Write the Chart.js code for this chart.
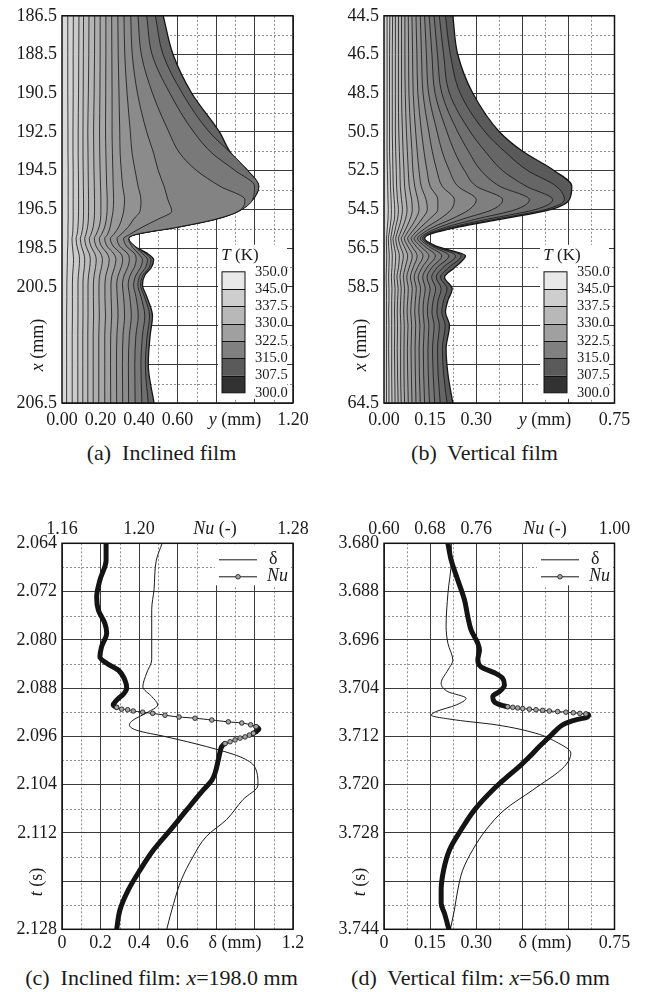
<!DOCTYPE html>
<html>
<head>
<meta charset="utf-8">
<script src="https://cdn.jsdelivr.net/npm/chart.js@4.4.1/dist/chart.umd.min.js"></script>
<style>
  body { margin: 0; background: #fff; }
  #page { position: relative; width: 646px; height: 992px; background: #fff; overflow: hidden;
          font-family: "Liberation Serif", "Times New Roman", serif; color: #1a1a1a; }
  canvas { position: absolute; }
  .cap { position: absolute; font-size: 22px; line-height: 26px; text-align: center; white-space: pre; }
</style>
</head>
<body>
<div id="page">
  <canvas id="filmA" width="323" height="440" style="left:0;top:0"></canvas>
  <canvas id="filmB" width="323" height="440" style="left:323px;top:0"></canvas>
  <canvas id="traceC" width="323" height="460" style="left:0;top:500px"></canvas>
  <canvas id="traceD" width="323" height="460" style="left:323px;top:500px"></canvas>
  <div class="cap" style="left:0;top:440px;width:323px">(a)  Inclined film</div>
  <div class="cap" style="left:323px;top:440px;width:323px">(b)  Vertical film</div>
  <div class="cap" style="left:0;top:965px;width:323px">(c)  Inclined film: <i>x</i>=198.0 mm</div>
  <div class="cap" style="left:319px;top:965px;width:323px">(d)  Vertical film: <i>x</i>=56.0 mm</div>
</div>

<script>
// ---------- (a) inclined film: isotherms across the film, x = 186.5 .. 206.5 mm ----------
const aStations = [186.5, 188.5, 190.5, 192.5, 193.6, 194.5, 195.3, 196.0, 196.6, 197.0, 197.4, 197.8,
                   198.0, 198.4, 198.8, 199.1, 199.5, 199.9, 200.4, 201.0, 202.0, 203.0, 204.5, 206.5]
const aSurface = [0.526, 0.577, 0.674, 0.818, 0.878, 0.965, 1.022, 0.990, 0.915, 0.800, 0.610, 0.381,
                  0.346, 0.377, 0.447, 0.476, 0.464, 0.430, 0.418, 0.440, 0.470, 0.458, 0.448, 0.478]
// wall side first
const aIsotherms = [
  [0.030, 0.030, 0.030, 0.031, 0.031, 0.032, 0.032, 0.032, 0.032, 0.032, 0.031, 0.031, 0.031, 0.030, 0.028, 0.028, 0.027, 0.026, 0.025, 0.025, 0.024, 0.024, 0.024, 0.024],
  [0.059, 0.058, 0.058, 0.057, 0.057, 0.058, 0.058, 0.058, 0.058, 0.058, 0.057, 0.055, 0.052, 0.054, 0.058, 0.060, 0.058, 0.055, 0.054, 0.054, 0.054, 0.053, 0.053, 0.053],
  [0.088, 0.087, 0.086, 0.084, 0.084, 0.085, 0.086, 0.086, 0.086, 0.085, 0.083, 0.078, 0.073, 0.078, 0.088, 0.091, 0.089, 0.085, 0.083, 0.083, 0.083, 0.082, 0.082, 0.082],
  [0.112, 0.111, 0.110, 0.109, 0.109, 0.110, 0.111, 0.112, 0.112, 0.111, 0.108, 0.101, 0.095, 0.101, 0.114, 0.118, 0.116, 0.111, 0.109, 0.109, 0.109, 0.108, 0.108, 0.108],
  [0.140, 0.139, 0.137, 0.134, 0.135, 0.136, 0.137, 0.138, 0.138, 0.137, 0.133, 0.124, 0.118, 0.125, 0.142, 0.147, 0.144, 0.138, 0.135, 0.135, 0.135, 0.134, 0.134, 0.134],
  [0.170, 0.169, 0.167, 0.164, 0.165, 0.166, 0.168, 0.169, 0.169, 0.167, 0.162, 0.150, 0.142, 0.150, 0.171, 0.178, 0.174, 0.167, 0.163, 0.163, 0.164, 0.162, 0.162, 0.162],
  [0.198, 0.198, 0.197, 0.195, 0.196, 0.198, 0.200, 0.202, 0.202, 0.200, 0.193, 0.177, 0.168, 0.177, 0.202, 0.210, 0.205, 0.196, 0.192, 0.192, 0.194, 0.191, 0.191, 0.191],
  [0.228, 0.228, 0.227, 0.226, 0.228, 0.230, 0.232, 0.235, 0.234, 0.230, 0.222, 0.205, 0.194, 0.205, 0.236, 0.245, 0.239, 0.228, 0.223, 0.223, 0.226, 0.222, 0.222, 0.222],
  [0.258, 0.259, 0.260, 0.260, 0.262, 0.264, 0.266, 0.268, 0.265, 0.258, 0.250, 0.236, 0.222, 0.234, 0.270, 0.280, 0.273, 0.260, 0.254, 0.255, 0.258, 0.253, 0.252, 0.253],
  [0.290, 0.292, 0.296, 0.300, 0.302, 0.308, 0.315, 0.325, 0.320, 0.310, 0.295, 0.268, 0.251, 0.266, 0.306, 0.315, 0.307, 0.292, 0.284, 0.287, 0.291, 0.285, 0.283, 0.284],
  [0.322, 0.326, 0.338, 0.355, 0.364, 0.380, 0.395, 0.410, 0.405, 0.372, 0.345, 0.305, 0.286, 0.300, 0.342, 0.350, 0.341, 0.323, 0.314, 0.320, 0.325, 0.317, 0.314, 0.315],
  [0.357, 0.365, 0.392, 0.440, 0.476, 0.500, 0.530, 0.550, 0.570, 0.500, 0.420, 0.350, 0.320, 0.335, 0.378, 0.385, 0.375, 0.354, 0.344, 0.352, 0.360, 0.350, 0.345, 0.346],
  [0.395, 0.412, 0.470, 0.555, 0.612, 0.700, 0.820, 0.950, 0.915, 0.800, 0.610, 0.381, 0.346, 0.362, 0.398, 0.418, 0.408, 0.384, 0.372, 0.384, 0.396, 0.384, 0.378, 0.380],
  [0.440, 0.468, 0.560, 0.684, 0.780, 0.900, 1.000, 0.990, 0.915, 0.800, 0.610, 0.381, 0.346, 0.377, 0.420, 0.444, 0.434, 0.406, 0.394, 0.410, 0.430, 0.418, 0.410, 0.415],
  [0.485, 0.525, 0.625, 0.765, 0.878, 0.965, 1.022, 0.990, 0.915, 0.800, 0.610, 0.381, 0.346, 0.377, 0.437, 0.462, 0.452, 0.420, 0.408, 0.428, 0.455, 0.443, 0.433, 0.448]
]
const aRowTicks = [186.5, 188.5, 190.5, 192.5, 194.5, 196.5, 198.5, 200.5, 202.5, 204.5, 206.5]
const aRowLabels = ['186.5', '188.5', '190.5', '192.5', '194.5', '196.5', '198.5', '200.5', '', '', '206.5']
const aColTicks = [0, 0.2, 0.4, 0.6, 0.8, 1.0, 1.2]
const aColLabels = ['0.00', '0.20', '0.40', '0.60', '', '', '1.20']

// ---------- (b) vertical film, x = 44.5 .. 64.5 mm ----------
const bStations = [44.5, 46.5, 48.5, 50.5, 51.5, 52.5, 53.3, 54.0, 54.5, 55.0, 55.4, 55.8,
                   56.0, 56.4, 56.9, 57.5, 58.0, 58.6, 59.2, 59.8, 60.5, 61.7, 63.0, 64.5]
const bSurface = [0.224, 0.240, 0.289, 0.376, 0.451, 0.554, 0.611, 0.603, 0.545, 0.382, 0.245, 0.146,
                  0.132, 0.170, 0.265, 0.230, 0.197, 0.222, 0.208, 0.200, 0.213, 0.202, 0.208, 0.224]
const bIsotherms = [
  [0.010, 0.010, 0.010, 0.010, 0.010, 0.011, 0.012, 0.013, 0.014, 0.013, 0.011, 0.009, 0.008, 0.008, 0.009, 0.008, 0.007, 0.008, 0.008, 0.008, 0.008, 0.008, 0.008, 0.008],
  [0.019, 0.018, 0.018, 0.018, 0.018, 0.020, 0.021, 0.023, 0.024, 0.023, 0.020, 0.016, 0.014, 0.015, 0.017, 0.016, 0.015, 0.016, 0.016, 0.015, 0.016, 0.015, 0.016, 0.016],
  [0.028, 0.027, 0.027, 0.027, 0.028, 0.029, 0.030, 0.033, 0.035, 0.034, 0.028, 0.024, 0.022, 0.024, 0.027, 0.026, 0.024, 0.026, 0.025, 0.025, 0.025, 0.025, 0.025, 0.026],
  [0.037, 0.037, 0.037, 0.037, 0.038, 0.040, 0.041, 0.044, 0.047, 0.044, 0.038, 0.033, 0.029, 0.033, 0.038, 0.036, 0.033, 0.036, 0.035, 0.034, 0.035, 0.034, 0.035, 0.036],
  [0.047, 0.047, 0.047, 0.048, 0.050, 0.052, 0.053, 0.057, 0.060, 0.056, 0.049, 0.041, 0.038, 0.042, 0.050, 0.047, 0.042, 0.046, 0.044, 0.043, 0.044, 0.043, 0.044, 0.046],
  [0.057, 0.057, 0.057, 0.060, 0.062, 0.065, 0.067, 0.072, 0.075, 0.070, 0.061, 0.051, 0.047, 0.053, 0.063, 0.057, 0.052, 0.056, 0.054, 0.053, 0.055, 0.054, 0.054, 0.056],
  [0.068, 0.068, 0.069, 0.073, 0.076, 0.079, 0.082, 0.090, 0.092, 0.085, 0.074, 0.062, 0.056, 0.065, 0.077, 0.069, 0.063, 0.067, 0.065, 0.064, 0.066, 0.065, 0.065, 0.067],
  [0.079, 0.080, 0.081, 0.087, 0.091, 0.094, 0.100, 0.110, 0.114, 0.103, 0.088, 0.072, 0.066, 0.077, 0.092, 0.082, 0.074, 0.079, 0.077, 0.075, 0.078, 0.076, 0.077, 0.079],
  [0.091, 0.093, 0.095, 0.103, 0.108, 0.114, 0.121, 0.137, 0.141, 0.123, 0.104, 0.084, 0.077, 0.090, 0.108, 0.095, 0.086, 0.092, 0.089, 0.087, 0.090, 0.088, 0.089, 0.091],
  [0.104, 0.107, 0.110, 0.122, 0.130, 0.140, 0.150, 0.175, 0.175, 0.148, 0.121, 0.096, 0.088, 0.104, 0.127, 0.109, 0.098, 0.105, 0.102, 0.100, 0.103, 0.101, 0.102, 0.104],
  [0.118, 0.122, 0.127, 0.146, 0.157, 0.172, 0.189, 0.229, 0.219, 0.181, 0.141, 0.108, 0.098, 0.118, 0.146, 0.124, 0.111, 0.119, 0.115, 0.113, 0.117, 0.114, 0.115, 0.118],
  [0.132, 0.138, 0.145, 0.173, 0.189, 0.213, 0.240, 0.300, 0.278, 0.219, 0.162, 0.120, 0.109, 0.132, 0.167, 0.140, 0.126, 0.134, 0.129, 0.127, 0.131, 0.128, 0.129, 0.132],
  [0.147, 0.156, 0.166, 0.205, 0.229, 0.262, 0.300, 0.386, 0.354, 0.256, 0.183, 0.130, 0.118, 0.145, 0.188, 0.156, 0.140, 0.150, 0.144, 0.141, 0.146, 0.143, 0.144, 0.148],
  [0.163, 0.174, 0.188, 0.240, 0.275, 0.316, 0.376, 0.473, 0.430, 0.300, 0.205, 0.137, 0.125, 0.156, 0.211, 0.173, 0.155, 0.168, 0.160, 0.156, 0.163, 0.158, 0.160, 0.165],
  [0.180, 0.194, 0.213, 0.281, 0.329, 0.386, 0.462, 0.549, 0.494, 0.338, 0.224, 0.143, 0.130, 0.163, 0.233, 0.192, 0.170, 0.186, 0.176, 0.172, 0.180, 0.174, 0.176, 0.183],
  [0.200, 0.216, 0.248, 0.329, 0.392, 0.468, 0.560, 0.587, 0.527, 0.365, 0.237, 0.145, 0.132, 0.168, 0.251, 0.211, 0.184, 0.205, 0.194, 0.188, 0.199, 0.190, 0.194, 0.205]
]
const bRowTicks = [44.5, 46.5, 48.5, 50.5, 52.5, 54.5, 56.5, 58.5, 60.5, 62.5, 64.5]
const bRowLabels = ['44.5', '46.5', '48.5', '50.5', '52.5', '54.5', '56.5', '58.5', '', '', '64.5']
const bColTicks = [0, 0.15, 0.30, 0.45, 0.60, 0.75]
const bColLabels = ['0.00', '0.15', '0.30', '', '', '0.75']

// temperature key
const tempTicks = [350.0, 345.0, 337.5, 330.0, 322.5, 315.0, 307.5, 300.0]

// ---------- (c) inclined film, time traces at x = 198.0 mm ----------
const cDeltaTime = [2.0640, 2.0668, 2.0717, 2.0750, 2.0800, 2.0833, 2.0855, 2.0878, 2.0894, 2.0908, 2.0921, 2.0933, 2.0941,
                    2.0950, 2.0961, 2.0977, 2.0994, 2.1010, 2.1041, 2.1065, 2.1098, 2.1126, 2.1160, 2.1198, 2.1237, 2.1280]
const cDelta = [0.520, 0.490, 0.478, 0.466, 0.466, 0.466, 0.440, 0.420, 0.466, 0.497, 0.440, 0.370, 0.350,
                0.388, 0.544, 0.750, 0.925, 1.000, 1.018, 0.940, 0.855, 0.750, 0.680, 0.620, 0.580, 0.544]
const cNuTime = [2.0640, 2.0668, 2.0701, 2.0729, 2.0751, 2.0773, 2.0789, 2.0811, 2.0828, 2.0839, 2.0850, 2.0867, 2.0880,
                 2.0889, 2.0900, 2.0908, 2.0912, 2.0915, 2.0916, 2.0918, 2.0920, 2.0922, 2.0925, 2.0928, 2.0930, 2.0933,
                 2.0936, 2.0938, 2.0941, 2.0944, 2.0948, 2.0952, 2.0955, 2.0958, 2.0961, 2.0963, 2.0966, 2.0969, 2.0972,
                 2.0977, 2.0986, 2.0999, 2.1021, 2.1033, 2.1049, 2.1082, 2.1116, 2.1149, 2.1182, 2.1215, 2.1248, 2.1280]
const cNu = [1.1829, 1.1829, 1.1797, 1.1780, 1.1789, 1.1823, 1.1832, 1.1806, 1.1797, 1.1832, 1.1892, 1.1927, 1.1936,
             1.1922, 1.1884, 1.1866, 1.1884, 1.1910, 1.1941, 1.1970, 1.2019, 1.2071, 1.2135, 1.2208, 1.2291, 1.2378,
             1.2464, 1.2534, 1.2580, 1.2608, 1.2623, 1.2611, 1.2594, 1.2573, 1.2551, 1.2525, 1.2499, 1.2473, 1.2447,
             1.2430, 1.2421, 1.2412, 1.2395, 1.2378, 1.2334, 1.2248, 1.2161, 1.2074, 1.2005, 1.1944, 1.1901, 1.1884]
const cTimeTicks = [2.064, 2.072, 2.080, 2.088, 2.096, 2.104, 2.112, 2.120, 2.128]
const cTimeLabels = ['2.064', '2.072', '2.080', '2.088', '2.096', '2.104', '2.112', '', '2.128']
const cDeltaTicks = [0, 0.2, 0.4, 0.6, 0.8, 1.0, 1.2]
const cDeltaLabels = ['0', '0.2', '0.4', '0.6', '', '', '1.2']
const cNuTicks = [1.16, 1.20, 1.24, 1.28]
const cNuLabels = ['1.16', '1.20', '', '1.28']

// ---------- (d) vertical film, time traces at x = 56.0 mm ----------
const dDeltaTime = [3.6800, 3.6828, 3.6883, 3.6938, 3.6966, 3.6994, 3.7010, 3.7032, 3.7046, 3.7057, 3.7068, 3.7079, 3.7085,
                    3.7093, 3.7101, 3.7115, 3.7129, 3.7148, 3.7170, 3.7209, 3.7242, 3.7275, 3.7308, 3.7342, 3.7375, 3.7408, 3.7440]
const dDelta = [0.219, 0.219, 0.208, 0.202, 0.208, 0.224, 0.208, 0.186, 0.208, 0.267, 0.235, 0.170, 0.154,
                0.235, 0.365, 0.494, 0.559, 0.608, 0.587, 0.484, 0.392, 0.332, 0.289, 0.256, 0.240, 0.229, 0.216]
const dNuTime = [3.6800, 3.6828, 3.6861, 3.6894, 3.6922, 3.6944, 3.6966, 3.6977, 3.6993, 3.7005, 3.7016, 3.7024, 3.7035,
                 3.7046, 3.7054, 3.7063, 3.7069, 3.7071, 3.7072, 3.7073, 3.7074, 3.7075, 3.7076, 3.7077, 3.7078, 3.7079,
                 3.7080, 3.7081, 3.7082, 3.7083, 3.7085, 3.7089, 3.7092, 3.7096, 3.7101, 3.7110, 3.7121, 3.7137, 3.7154,
                 3.7170, 3.7184, 3.7209, 3.7242, 3.7275, 3.7308, 3.7342, 3.7375, 3.7397, 3.7414, 3.7440]
const dNu = [0.7108, 0.7166, 0.7281, 0.7397, 0.7455, 0.7512, 0.7628, 0.7657, 0.7628, 0.7685, 0.7945, 0.8061, 0.8090,
             0.8003, 0.7887, 0.7917, 0.8061, 0.8147, 0.8234, 0.8320, 0.8407, 0.8523, 0.8637, 0.8753, 0.8869, 0.9013,
             0.9157, 0.9285, 0.9399, 0.9503, 0.9550, 0.9503, 0.9359, 0.9216, 0.9100, 0.8984, 0.8869, 0.8696, 0.8523,
             0.8350, 0.8177, 0.7887, 0.7571, 0.7339, 0.7138, 0.7034, 0.6992, 0.6992, 0.7051, 0.7126]
const dTimeTicks = [3.680, 3.688, 3.696, 3.704, 3.712, 3.720, 3.728, 3.736, 3.744]
const dTimeLabels = ['3.680', '3.688', '3.696', '3.704', '3.712', '3.720', '3.728', '', '3.744']
const dDeltaTicks = [0, 0.15, 0.30, 0.45, 0.60, 0.75]
const dDeltaLabels = ['0', '0.15', '0.30', '', '', '0.75']
const dNuTicks = [0.60, 0.68, 0.76, 0.84, 0.92, 1.00]
const dNuLabels = ['0.60', '0.68', '0.76', '', '', '1.00']

// ---------- styling ----------
const SERIF = '"Liberation Serif", "Times New Roman", serif'
const INK = '#1a1a1a'
const aBandGrays = [216, 209, 202, 195, 188, 181, 174, 167, 160, 153, 146, 139, 131, 121, 111, 100]
const bBandGrays = [212, 205, 198, 191, 184, 177, 170, 163, 156, 149, 142, 135, 127, 119, 111, 102, 90]
const barGrays = [232, 206, 184, 160, 128, 90, 50]

Chart.defaults.font.family = SERIF
Chart.defaults.font.size = 18
Chart.defaults.color = INK

const gray = (g) => `rgb(${g},${g},${g})`

// text with italic pieces, centred on (x, y)
function richText(ctx, parts, x, y, size) {
  const fonts = parts.map((p) => `${p.it ? 'italic ' : ''}${size}px ${SERIF}`)
  const widths = parts.map((p, i) => {
    ctx.font = fonts[i]
    return ctx.measureText(p.s).width
  })
  let cx = x - widths.reduce((a, b) => a + b, 0) / 2
  ctx.textAlign = 'left'
  ctx.textBaseline = 'middle'
  parts.forEach((p, i) => {
    ctx.font = fonts[i]
    ctx.fillText(p.s, cx, y)
    cx += widths[i]
  })
}

function fixedTicks(values) {
  return (scale) => {
    scale.ticks = values.map((v) => ({ value: v }))
  }
}

// dashed lines halfway between the solid grid lines
const halfGrid = {
  id: 'halfGrid',
  beforeDraw(chart) {
    const { ctx, chartArea: area } = chart
    const sx = chart.scales.x
    const sy = chart.scales.y
    ctx.save()
    ctx.strokeStyle = '#8e8e8e'
    ctx.lineWidth = 1
    ctx.setLineDash([2, 2])
    ctx.beginPath()
    for (let i = 1; i < sx.ticks.length; i++) {
      const p = Math.round(sx.getPixelForValue((sx.ticks[i - 1].value + sx.ticks[i].value) / 2)) + 0.5
      ctx.moveTo(p, area.top)
      ctx.lineTo(p, area.bottom)
    }
    for (let i = 1; i < sy.ticks.length; i++) {
      const p = Math.round(sy.getPixelForValue((sy.ticks[i - 1].value + sy.ticks[i].value) / 2)) + 0.5
      ctx.moveTo(area.left, p)
      ctx.lineTo(area.right, p)
    }
    ctx.stroke()
    ctx.restore()
  },
}

// plot frame and axis titles
function decorations(texts) {
  return {
    id: 'decorations',
    afterDraw(chart) {
      const { ctx, chartArea: a } = chart
      ctx.save()
      ctx.strokeStyle = '#111'
      ctx.lineWidth = 1.5
      ctx.strokeRect(a.left, a.top, a.right - a.left, a.bottom - a.top)
      ctx.fillStyle = INK
      texts.forEach((t) => {
        ctx.save()
        ctx.translate(t.x, t.y)
        if (t.rotate) ctx.rotate(-Math.PI / 2)
        richText(ctx, t.parts, 0, 0, 18)
        ctx.restore()
      })
      ctx.restore()
    },
  }
}

// temperature colour key in the lower right corner of the film plots
const tempKey = {
  id: 'tempKey',
  afterDatasetsDraw(chart) {
    const { ctx, chartArea: a } = chart
    const left = a.left + 156
    const top = a.top + 229
    ctx.save()
    ctx.fillStyle = '#fff'
    ctx.fillRect(left, top, 69, 154)
    ctx.fillStyle = INK
    richText(ctx, [{ s: 'T', it: true }, { s: ' (K)' }], left + 22, top + 11, 17)

    const barL = a.left + 160
    const barT = a.top + 256
    const barW = 23
    const barH = 121
    const n = tempTicks.length - 1
    const step = barH / n
    for (let k = 0; k < n; k++) {
      ctx.fillStyle = gray(barGrays[k])
      ctx.fillRect(barL, barT + k * step, barW, step)
    }
    ctx.strokeStyle = '#111'
    ctx.lineWidth = 1
    ctx.beginPath()
    for (let k = 1; k < n; k++) {
      const y = Math.round(barT + k * step) + 0.5
      ctx.moveTo(barL, y)
      ctx.lineTo(barL + barW, y)
    }
    ctx.stroke()
    ctx.strokeRect(barL, barT, barW, barH)

    ctx.fillStyle = INK
    ctx.font = `14.5px ${SERIF}`
    ctx.textAlign = 'left'
    ctx.textBaseline = 'middle'
    tempTicks.forEach((v, k) => ctx.fillText(v.toFixed(1), a.left + 193, barT + k * step))
    ctx.restore()
  },
}

// legend box for the two time traces
const traceKey = {
  id: 'traceKey',
  afterDatasetsDraw(chart) {
    const { ctx, chartArea: a } = chart
    const [thin, thick] = chart.data.datasets
    const x0 = a.left + 157
    const x1 = a.left + 195
    ctx.save()
    ctx.fillStyle = '#fff'
    ctx.fillRect(a.left + 153, a.top + 1, 76, 41)

    ctx.strokeStyle = thin.borderColor
    ctx.lineWidth = thin.borderWidth
    ctx.beginPath()
    ctx.moveTo(x0, a.top + 16.5)
    ctx.lineTo(x1, a.top + 16.5)
    ctx.stroke()

    ctx.strokeStyle = thick.borderColor
    ctx.lineWidth = 1
    ctx.beginPath()
    ctx.moveTo(x0, a.top + 33.5)
    ctx.lineTo(x1, a.top + 33.5)
    ctx.stroke()
    ctx.fillStyle = thick.pointBackgroundColor
    ctx.strokeStyle = thick.pointBorderColor
    ctx.lineWidth = thick.pointBorderWidth
    ctx.beginPath()
    ctx.arc((x0 + x1) / 2, a.top + 33.5, 2.3, 0, Math.PI * 2)
    ctx.fill()
    ctx.stroke()

    ctx.fillStyle = INK
    ctx.font = `18px ${SERIF}`
    ctx.textAlign = 'left'
    ctx.textBaseline = 'middle'
    ctx.fillText('δ', a.left + 207, a.top + 16)
    ctx.font = `italic 18px ${SERIF}`
    ctx.fillText('Nu', a.left + 205, a.top + 33)
    ctx.restore()
  },
}

const solidGrid = { color: '#3a3a3a', lineWidth: 1, drawTicks: false }

function filmChart(id, cfg) {
  const lines = cfg.isotherms.concat([cfg.surface])
  const datasets = lines.map((ys, k) => ({
    data: cfg.stations.map((x, i) => ({ x: ys[i], y: x })),
    borderColor: '#141414',
    borderWidth: k === lines.length - 1 ? 1.3 : 0.8,
    backgroundColor: gray(cfg.grays[k]),
    fill: 'origin',
    pointRadius: 0,
    cubicInterpolationMode: 'monotone',
  }))

  new Chart(document.getElementById(id), {
    type: 'line',
    data: { datasets },
    options: {
      indexAxis: 'y',
      responsive: false,
      animation: false,
      devicePixelRatio: 1,
      events: [],
      layout: { padding: { left: 0, right: cfg.rightPad, top: 15, bottom: 0 } },
      plugins: { legend: { display: false }, tooltip: { enabled: false } },
      scales: {
        x: {
          type: 'linear',
          position: 'bottom',
          min: cfg.colTicks[0],
          max: cfg.colTicks[cfg.colTicks.length - 1],
          afterBuildTicks: fixedTicks(cfg.colTicks),
          afterFit: (s) => { s.height = 37 },
          ticks: { callback: (v, i) => cfg.colLabels[i], padding: 6, autoSkip: false, maxRotation: 0 },
          grid: solidGrid,
          border: { display: false },
        },
        y: {
          type: 'linear',
          reverse: true,
          min: cfg.rowTicks[0],
          max: cfg.rowTicks[cfg.rowTicks.length - 1],
          afterBuildTicks: fixedTicks(cfg.rowTicks),
          afterFit: (s) => { s.width = cfg.axisWidth },
          ticks: { callback: (v, i) => cfg.rowLabels[i], padding: 5, autoSkip: false },
          grid: solidGrid,
          border: { display: false },
        },
      },
    },
    plugins: [halfGrid, tempKey, decorations(cfg.texts)],
  })
}

function traceChart(id, cfg) {
  const runSpeed = (p0, p1) => Math.abs(p1.x - p0.x) / Math.max(Math.abs(p1.y - p0.y), 0.05)

  // markers only show where the Nu trace moves fast enough for them to separate
  const markerRadius = (ctx) => {
    if (ctx.type !== 'data') return 0
    const { chart, dataIndex: i } = ctx
    const pts = ctx.dataset.data
    const sx = chart.scales.x2
    const sy = chart.scales.y
    const px = (k) => ({ x: sx.getPixelForValue(pts[k].x), y: sy.getPixelForValue(pts[k].y) })
    const here = px(i)
    const before = i > 0 && runSpeed(px(i - 1), here) > cfg.fastRun
    const after = i < pts.length - 1 && runSpeed(here, px(i + 1)) > cfg.fastRun
    return before || after ? 2.3 : 0
  }

  new Chart(document.getElementById(id), {
    type: 'line',
    data: {
      datasets: [
        {
          label: 'δ',
          data: cfg.deltaTime.map((t, i) => ({ x: cfg.delta[i], y: t })),
          xAxisID: 'x',
          borderColor: '#1a1a1a',
          borderWidth: 1,
          pointRadius: 0,
          fill: false,
          cubicInterpolationMode: 'monotone',
        },
        {
          label: 'Nu',
          data: cfg.nuTime.map((t, i) => ({ x: cfg.nu[i], y: t })),
          xAxisID: 'x2',
          borderColor: '#141414',
          borderWidth: 5,
          borderCapStyle: 'round',
          borderJoinStyle: 'round',
          fill: false,
          cubicInterpolationMode: 'monotone',
          segment: { borderWidth: (s) => (runSpeed(s.p0, s.p1) > cfg.fastRun ? 1 : 5) },
          pointRadius: markerRadius,
          pointStyle: 'circle',
          pointBackgroundColor: '#a4a4a4',
          pointBorderColor: '#262626',
          pointBorderWidth: 0.9,
        },
      ],
    },
    options: {
      indexAxis: 'y',
      responsive: false,
      animation: false,
      devicePixelRatio: 1,
      events: [],
      layout: { padding: { left: 0, right: cfg.rightPad, top: 0, bottom: 0 } },
      plugins: { legend: { display: false }, tooltip: { enabled: false } },
      scales: {
        x: {
          type: 'linear',
          position: 'bottom',
          min: cfg.deltaTicks[0],
          max: cfg.deltaTicks[cfg.deltaTicks.length - 1],
          afterBuildTicks: fixedTicks(cfg.deltaTicks),
          afterFit: (s) => { s.height = 30.7 },
          ticks: { callback: (v, i) => cfg.deltaLabels[i], padding: 3, autoSkip: false, maxRotation: 0 },
          grid: solidGrid,
          border: { display: false },
        },
        x2: {
          type: 'linear',
          position: 'top',
          min: cfg.nuTicks[0],
          max: cfg.nuTicks[cfg.nuTicks.length - 1],
          afterBuildTicks: fixedTicks(cfg.nuTicks),
          afterFit: (s) => { s.height = 43.3 },
          ticks: { callback: (v, i) => cfg.nuLabels[i], padding: 3.5, autoSkip: false, maxRotation: 0 },
          grid: { display: false, drawTicks: false },
          border: { display: false },
        },
        y: {
          type: 'linear',
          reverse: true,
          min: cfg.timeTicks[0],
          max: cfg.timeTicks[cfg.timeTicks.length - 1],
          afterBuildTicks: fixedTicks(cfg.timeTicks),
          afterFit: (s) => { s.width = cfg.axisWidth },
          ticks: { callback: (v, i) => cfg.timeLabels[i], padding: 5, autoSkip: false },
          grid: solidGrid,
          border: { display: false },
        },
      },
    },
    plugins: [halfGrid, traceKey, decorations(cfg.texts)],
  })
}

const xTitle = [{ s: 'x', it: true }, { s: ' (mm)' }]
const yTitle = [{ s: 'y', it: true }, { s: ' (mm)' }]
const tTitle = [{ s: 't', it: true }, { s: ' (s)' }]
const deltaTitle = [{ s: 'δ (mm)' }]
const nuTitle = [{ s: 'Nu', it: true }, { s: ' (-)' }]

filmChart('filmA', {
  stations: aStations, surface: aSurface, isotherms: aIsotherms, grays: aBandGrays,
  rowTicks: aRowTicks, rowLabels: aRowLabels, colTicks: aColTicks, colLabels: aColLabels,
  axisWidth: 62, rightPad: 30,
  texts: [{ parts: xTitle, x: 38, y: 345, rotate: true }, { parts: yTitle, x: 235, y: 420 }],
})

filmChart('filmB', {
  stations: bStations, surface: bSurface, isotherms: bIsotherms, grays: bBandGrays,
  rowTicks: bRowTicks, rowLabels: bRowLabels, colTicks: bColTicks, colLabels: bColLabels,
  axisWidth: 61, rightPad: 31.5,
  texts: [{ parts: xTitle, x: 38, y: 345, rotate: true }, { parts: yTitle, x: 222, y: 420 }],
})

traceChart('traceC', {
  deltaTime: cDeltaTime, delta: cDelta, nuTime: cNuTime, nu: cNu,
  timeTicks: cTimeTicks, timeLabels: cTimeLabels, deltaTicks: cDeltaTicks, deltaLabels: cDeltaLabels,
  nuTicks: cNuTicks, nuLabels: cNuLabels,
  axisWidth: 62, rightPad: 30, fastRun: 2,
  texts: [{ parts: tTitle, x: 37, y: 382, rotate: true }, { parts: deltaTitle, x: 235, y: 443 },
          { parts: nuTitle, x: 215, y: 29 }],
})

traceChart('traceD', {
  deltaTime: dDeltaTime, delta: dDelta, nuTime: dNuTime, nu: dNu,
  timeTicks: dTimeTicks, timeLabels: dTimeLabels, deltaTicks: dDeltaTicks, deltaLabels: dDeltaLabels,
  nuTicks: dNuTicks, nuLabels: dNuLabels,
  axisWidth: 61, rightPad: 31.5, fastRun: 5,
  texts: [{ parts: tTitle, x: 37, y: 382, rotate: true }, { parts: deltaTitle, x: 222, y: 443 },
          { parts: nuTitle, x: 222, y: 29 }],
})
</script>
</body>
</html>
